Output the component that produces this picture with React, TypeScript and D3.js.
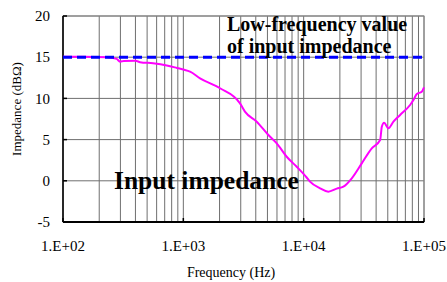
import React from "react";
import * as d3 from "d3";

const width = 447;
const height = 282;
const margin = { top: 16, right: 23, bottom: 60, left: 63 };

// measured impedance curve (Hz, dBΩ)
const freq = [
  100, 150, 231, 279, 298, 320, 400, 437, 560, 728, 885, 1000, 1137, 1377,
  2018, 2958, 3250, 4074, 5094, 5975, 7230, 8750, 10590, 11290, 13680, 16040,
  18840, 21380, 25100, 30400, 36800, 43200, 44600, 46600, 50600, 55700, 63300,
  76600, 81700, 87100, 95800, 100000,
];
const impedance = [
  15.05, 15.05, 15.0, 14.8, 14.45, 14.55, 14.57, 14.4, 14.26, 14.0, 13.7,
  13.5, 13.24, 12.44, 11.23, 9.4, 8.39, 7.17, 5.56, 4.55, 2.92, 1.71, 0.4,
  -0.1, -0.91, -1.32, -0.95, -0.72, 0.3, 2.12, 3.94, 4.95, 6.57, 7.05, 6.37,
  7.17, 7.99, 9.2, 9.8, 10.53, 10.81, 11.35,
];
const lowFreqValue = 15;
const yTicks = [-5, 0, 5, 10, 15, 20];
const xTicks = [1e2, 1e3, 1e4, 1e5];
const xTickLabels = ["1.E+02", "1.E+03", "1.E+04", "1.E+05"];

export default function App() {
  const x = d3
    .scaleLog()
    .domain([1e2, 1e5])
    .range([margin.left, width - margin.right]);
  const y = d3
    .scaleLinear()
    .domain([-5, 20])
    .range([height - margin.bottom, margin.top]);

  const minor: number[] = [];
  for (let d = 100; d < 1e5; d *= 10) {
    for (let k = 2; k <= 9; k++) minor.push(d * k);
  }

  const line = d3
    .line<number>()
    .x((d, i) => x(freq[i]))
    .y((d) => y(d))
    .curve(d3.curveMonotoneX);

  const font = "'Liberation Serif', 'Times New Roman', serif";
  const x0 = x.range()[0];
  const x1 = x.range()[1];
  const y0 = y.range()[0];
  const y1 = y.range()[1];

  return (
    <svg
      width={width}
      height={height}
      style={{ position: "absolute", left: 0, top: 0, background: "#fff" }}
    >
      {minor.concat(xTicks).map((f, i) => (
        <line
          key={"v" + i}
          x1={x(f)}
          x2={x(f)}
          y1={y1}
          y2={y0}
          stroke="#6f6f6f"
          strokeWidth={1}
        />
      ))}
      {yTicks.map((t) => (
        <line
          key={"h" + t}
          x1={x0}
          x2={x1}
          y1={y(t)}
          y2={y(t)}
          stroke="#6f6f6f"
          strokeWidth={1}
        />
      ))}
      <rect
        x={x0}
        y={y1}
        width={x1 - x0}
        height={y0 - y1}
        fill="none"
        stroke="#888"
        strokeWidth={1}
      />
      <line x1={x0} x2={x0} y1={y1} y2={y0} stroke="#000" strokeWidth={1.5} />
      <line x1={x0} x2={x1} y1={y0} y2={y0} stroke="#000" strokeWidth={2} />
      {xTicks.map((f) => (
        <line
          key={"t" + f}
          x1={x(f)}
          x2={x(f)}
          y1={y0}
          y2={y0 - 4}
          stroke="#000"
          strokeWidth={1.5}
        />
      ))}
      {yTicks.map((t) => (
        <line
          key={"yt" + t}
          x1={x0}
          x2={x0 + 4}
          y1={y(t)}
          y2={y(t)}
          stroke="#000"
          strokeWidth={1.5}
        />
      ))}

      <path
        d={line(impedance) || ""}
        fill="none"
        stroke="#ff00ff"
        strokeWidth={2}
      />
      <line
        x1={x0}
        x2={x1}
        y1={y(lowFreqValue)}
        y2={y(lowFreqValue)}
        stroke="#0000ff"
        strokeWidth={3}
        strokeDasharray="9,5"
      />

      {yTicks.map((t) => (
        <text
          key={"yl" + t}
          x={x0 - 13}
          y={y(t)}
          dy="0.35em"
          textAnchor="end"
          fontFamily={font}
          fontSize={15}
        >
          {t}
        </text>
      ))}
      {xTicks.map((f, i) => (
        <text
          key={"xl" + f}
          x={x(f)}
          y={y0 + 29}
          textAnchor="middle"
          fontFamily={font}
          fontSize={15}
        >
          {xTickLabels[i]}
        </text>
      ))}
      <text
        x={231}
        y={277}
        textAnchor="middle"
        fontFamily={font}
        fontSize={14}
      >
        Frequency (Hz)
      </text>
      <text
        transform={`translate(21,109) rotate(-90)`}
        textAnchor="middle"
        fontFamily={font}
        fontSize={13}
      >
        Impedance (dBΩ)
      </text>

      <text
        x={227}
        y={31}
        fontFamily={font}
        fontSize={20}
        fontWeight="bold"
      >
        Low-frequency value
      </text>
      <text
        x={227}
        y={53}
        fontFamily={font}
        fontSize={20}
        fontWeight="bold"
      >
        of input impedance
      </text>
      <text
        x={114}
        y={189}
        fontFamily={font}
        fontSize={25.5}
        fontWeight="bold"
      >
        Input impedance
      </text>
    </svg>
  );
}
